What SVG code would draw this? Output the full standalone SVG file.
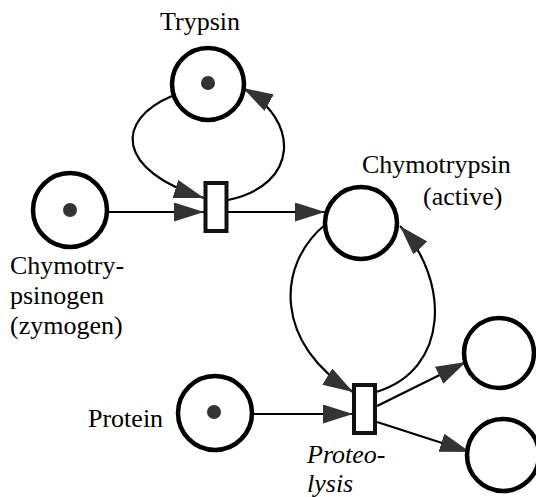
<svg xmlns="http://www.w3.org/2000/svg" width="536" height="497" viewBox="0 0 536 497">
<style>
.place{fill:#fff;stroke:#000;stroke-width:4.5}
.token{fill:#333}
.trans{fill:#fff;stroke:#111;stroke-width:4}
.arc{fill:none;stroke:#000;stroke-width:2.2;marker-end:url(#ah)}
.lbl{font-family:"Liberation Serif","Times New Roman",serif;font-size:26px;fill:#000}
.it{font-style:italic}
</style>
<defs>
<marker id="ah" markerUnits="userSpaceOnUse" markerWidth="32" markerHeight="20" refX="30" refY="9.5" orient="auto">
<path d="M0,0 L30,9.5 L0,19 Z" fill="#333"/>
</marker>
</defs>
<g id="connectors">
<path class="arc" d="M108,212 L204,212"/>
<path class="arc" d="M228,212 L325,212"/>
<path class="arc" d="M172,96 C115,120 115,170 204,198"/>
<path class="arc" d="M228,200 C300,185 300,120 243,88"/>
<path class="arc" d="M326,224 C275,265 275,345 353,392"/>
<path class="arc" d="M376,392 C450,370 450,280 400,226"/>
<path class="arc" d="M253,414 L353,414"/>
<path class="arc" d="M377,406 L466,362"/>
<path class="arc" d="M377,422 L470,452"/>
</g>
<g id="trypsin">
<circle class="place" cx="208" cy="84" r="36"/>
<circle class="token" cx="208" cy="83" r="7"/>
<text class="lbl" x="200" y="30" text-anchor="middle">Trypsin</text>
</g>
<g id="chymotrypsinogen">
<circle class="place" cx="70" cy="210" r="37"/>
<circle class="token" cx="70" cy="210" r="7"/>
<text class="lbl" x="10" y="274">Chymotry-</text>
<text class="lbl" x="10" y="304">psinogen</text>
<text class="lbl" x="10" y="334">(zymogen)</text>
</g>
<g id="activation">
<rect class="trans" x="205.5" y="183" width="21" height="48"/>
</g>
<g id="chymotrypsin">
<circle class="place" cx="361" cy="223" r="36"/>
<text class="lbl" x="362" y="173">Chymotrypsin</text>
<text class="lbl" x="423" y="205">(active)</text>
</g>
<g id="protein">
<circle class="place" cx="215" cy="413" r="37"/>
<circle class="token" cx="214" cy="412" r="7"/>
<text class="lbl" x="88" y="427">Protein</text>
</g>
<g id="proteolysis">
<rect class="trans" x="354" y="385" width="21" height="48"/>
<text class="lbl it" x="307" y="463">Proteo-</text>
<text class="lbl it" x="307" y="492">lysis</text>
</g>
<g id="product1">
<circle class="place" cx="499" cy="353" r="35"/>
</g>
<g id="product2">
<circle class="place" cx="503" cy="455" r="36"/>
</g>
</svg>
